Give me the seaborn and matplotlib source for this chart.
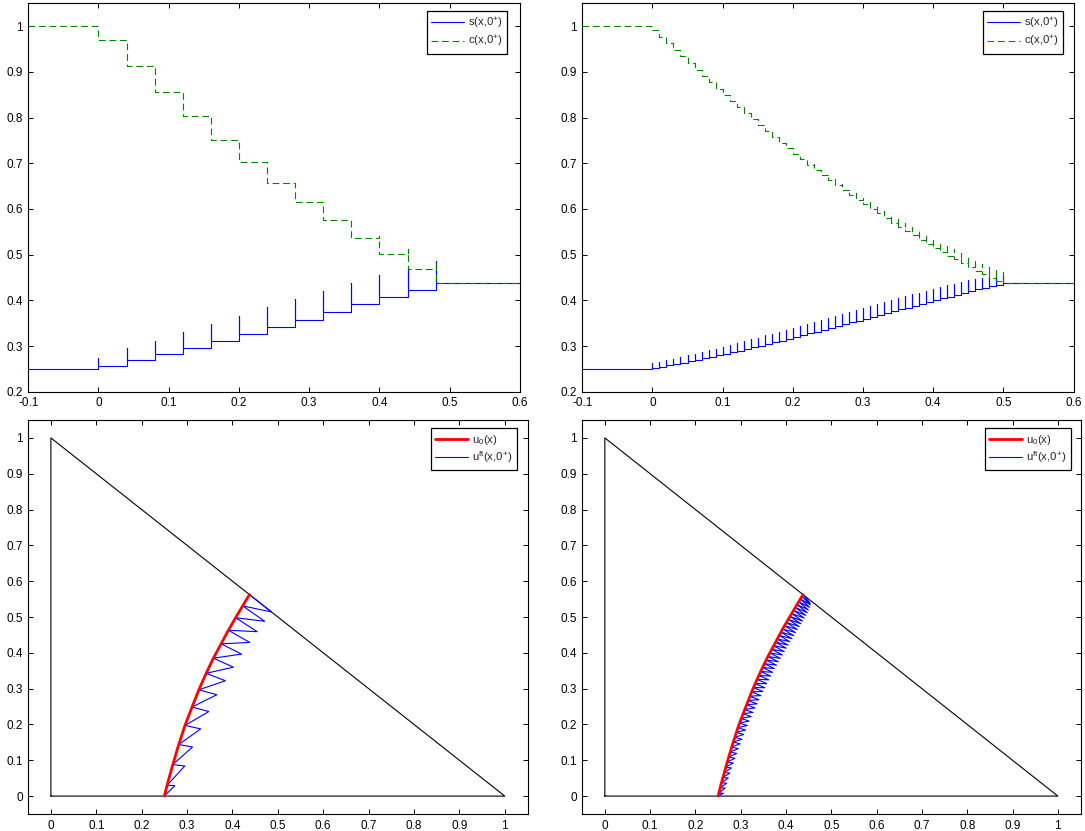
import matplotlib
matplotlib.use("Agg")
import matplotlib.pyplot as plt
import seaborn as sns

# ---------------- data ----------------
# state to the left of the interface
s_left = 0.25
c_left = 1.0

# coarse grid (dx = 0.04): jump locations, levels after each jump,
# overshoot of s inside each jump and the value of c at that overshoot
coarse_x = [0.00, 0.04, 0.08, 0.12, 0.16, 0.20, 0.24, 0.28, 0.32, 0.36, 0.40, 0.44, 0.48]
coarse_s = [0.256, 0.2686, 0.2817, 0.2955, 0.311, 0.326, 0.342, 0.358, 0.375, 0.391, 0.407, 0.4225, 0.4375]
coarse_s_peak = [0.273, 0.295, 0.312, 0.330, 0.348, 0.3656, 0.3845, 0.402, 0.420, 0.438, 0.4545, 0.471, 0.486]
coarse_c = [0.9695, 0.912, 0.856, 0.8025, 0.7514, 0.7033, 0.6573, 0.615, 0.575, 0.537, 0.502, 0.469, 0.4375]
coarse_c_peak = [0.971, 0.916, 0.863, 0.8125, 0.764, 0.717, 0.678, 0.640, 0.6035, 0.571, 0.541, 0.512, 0.486]

# fine grid (dx = 0.01)
fine_x = [0.00, 0.01, 0.02, 0.03, 0.04, 0.05, 0.06, 0.07, 0.08, 0.09,
          0.10, 0.11, 0.12, 0.13, 0.14, 0.15, 0.16, 0.17, 0.18, 0.19,
          0.20, 0.21, 0.22, 0.23, 0.24, 0.25, 0.26, 0.27, 0.28, 0.29,
          0.30, 0.31, 0.32, 0.33, 0.34, 0.35, 0.36, 0.37, 0.38, 0.39,
          0.40, 0.41, 0.42, 0.43, 0.44, 0.45, 0.46, 0.47, 0.48, 0.49, 0.50]
fine_s = [0.2515, 0.2545, 0.2575, 0.2605, 0.2635, 0.2665, 0.2700, 0.2730, 0.2765, 0.2795,
          0.2830, 0.2865, 0.2900, 0.2935, 0.2970, 0.3005, 0.3045, 0.3080, 0.3120, 0.3160,
          0.3195, 0.3235, 0.3275, 0.3315, 0.3355, 0.3395, 0.3435, 0.3475, 0.3515, 0.3555,
          0.3595, 0.3635, 0.3680, 0.3720, 0.3760, 0.3800, 0.3840, 0.3880, 0.3920, 0.3960,
          0.4000, 0.4040, 0.4080, 0.4120, 0.4160, 0.4200, 0.4240, 0.4275, 0.4310, 0.4345, 0.4375]
fine_s_peak = [0.2620, 0.2655, 0.2690, 0.2725, 0.2760, 0.2795, 0.2835, 0.2870, 0.2910, 0.2945,
               0.2985, 0.3025, 0.3065, 0.3105, 0.3145, 0.3185, 0.3230, 0.3270, 0.3315, 0.3360,
               0.3400, 0.3445, 0.3490, 0.3535, 0.3575, 0.3620, 0.3660, 0.3705, 0.3745, 0.3790,
               0.3830, 0.3875, 0.3920, 0.3960, 0.4005, 0.4045, 0.4085, 0.4130, 0.4170, 0.4210,
               0.4250, 0.4290, 0.4330, 0.4365, 0.4400, 0.4435, 0.4470, 0.4495, 0.4520, 0.4535, 0.4535]
fine_c = [0.992, 0.977, 0.963, 0.948, 0.934, 0.919, 0.905, 0.891, 0.877, 0.863,
          0.849, 0.836, 0.822, 0.809, 0.796, 0.783, 0.770, 0.758, 0.745, 0.733,
          0.721, 0.709, 0.697, 0.686, 0.674, 0.663, 0.652, 0.641, 0.630, 0.620,
          0.610, 0.600, 0.590, 0.580, 0.570, 0.561, 0.551, 0.542, 0.533, 0.524,
          0.515, 0.506, 0.498, 0.490, 0.481, 0.473, 0.465, 0.457, 0.449, 0.442, 0.4375]
fine_c_peak = [0.992, 0.9775, 0.964, 0.9495, 0.936, 0.9215, 0.908, 0.8945, 0.881, 0.8675,
               0.854, 0.8415, 0.828, 0.8155, 0.803, 0.7905, 0.778, 0.7665, 0.754, 0.7425,
               0.731, 0.7195, 0.708, 0.6975, 0.686, 0.6755, 0.665, 0.6545, 0.644, 0.6345,
               0.625, 0.6155, 0.606, 0.5965, 0.587, 0.5785, 0.569, 0.5605, 0.552, 0.5435,
               0.535, 0.5265, 0.519, 0.5115, 0.503, 0.4955, 0.488, 0.4805, 0.473, 0.466, 0.4615]

# smooth initial curve u0 in the (s, 1 - c) plane
u0_s = [0.2500, 0.2560, 0.2686, 0.2817, 0.2955, 0.3110, 0.3260, 0.3420,
        0.3580, 0.3750, 0.3910, 0.4070, 0.4225, 0.4375]
u0_v = [0.0000, 0.0305, 0.0880, 0.1440, 0.1975, 0.2486, 0.2967, 0.3427,
        0.3850, 0.4250, 0.4630, 0.4980, 0.5310, 0.5625]

# simplex boundary
tri_x = [0.0, 1.0, 0.0, 0.0]
tri_y = [0.0, 0.0, 1.0, 0.0]

x_min, x_max = -0.1, 0.6

# ---------------- style ----------------
sns.set_theme(style="ticks")
plt.rcParams.update({
    "font.family": ["Liberation Sans", "DejaVu Sans"],
    "mathtext.fontset": "custom",
    "mathtext.rm": "Liberation Sans",
    "mathtext.it": "Liberation Sans",
    "mathtext.bf": "Liberation Sans",
    "font.size": 8.5,
    "axes.edgecolor": "black",
    "axes.linewidth": 0.8,
    "xtick.direction": "in",
    "ytick.direction": "in",
    "xtick.top": True,
    "ytick.right": True,
    "xtick.major.size": 3.6,
    "ytick.major.size": 3.6,
    "xtick.major.width": 0.7,
    "ytick.major.width": 0.7,
    "xtick.color": "black",
    "ytick.color": "black",
    "xtick.labelsize": 8.5,
    "ytick.labelsize": 8.5,
    "xtick.major.pad": 4.0,
    "ytick.major.pad": 4.0,
})

BLUE = (0.0, 0.0, 1.0)
GREEN = (0.0, 0.5, 0.0)
RED = (1.0, 0.0, 0.0)


def step_path(xs, levels, peaks, left):
    """Piecewise-constant profile with a vertical overshoot at every jump."""
    px, py = [x_min], [left]
    prev = left
    for x, lv, pk in zip(xs, levels, peaks):
        px += [x, x, x]
        py += [prev, pk, lv]
        prev = lv
    px.append(x_max)
    py.append(prev)
    return px, py


def phase_path(s, s_pk, c, c_pk):
    """Trajectory of (s, 1 - c) traced through the jumps."""
    px, py = [s_left], [1.0 - c_left]
    for a, ap, b, bp in zip(s, s_pk, c, c_pk):
        px += [ap, a]
        py += [1.0 - bp, 1.0 - b]
    return px, py


def fmt(v, _):
    return "%g" % round(v, 2)


LEGEND_KW = dict(loc="upper right", borderaxespad=0, fontsize=8.2, fancybox=False,
                 framealpha=1, edgecolor="black", borderpad=0.4, labelspacing=0.25,
                 handlelength=2.9, handletextpad=0.3)


def profile_panel(ax, xs, s, s_pk, c, c_pk, anchor):
    sx, sy = step_path(xs, s, s_pk, s_left)
    cx, cy = step_path(xs, c, c_pk, c_left)
    sns.lineplot(x=sx, y=sy, sort=False, estimator=None, color=BLUE,
                 linewidth=0.8, ax=ax, legend=False)
    sns.lineplot(x=cx, y=cy, sort=False, estimator=None, color=GREEN,
                 linewidth=0.8, linestyle=(0, (6.0, 3.5)), ax=ax, legend=False)
    ax.set_xlim(x_min, x_max)
    ax.set_ylim(0.2, 1.05)
    ax.set_xticks([-0.1, 0, 0.1, 0.2, 0.3, 0.4, 0.5, 0.6])
    ax.set_yticks([0.2, 0.3, 0.4, 0.5, 0.6, 0.7, 0.8, 0.9, 1.0])
    ax.xaxis.set_major_formatter(plt.FuncFormatter(fmt))
    ax.yaxis.set_major_formatter(plt.FuncFormatter(fmt))
    lines = ax.get_lines()
    leg = ax.legend(lines[:2], [r"s(x,0$^{+}$)", r"c(x,0$^{+}$)"],
                    bbox_to_anchor=anchor, **LEGEND_KW)
    leg.get_frame().set_linewidth(0.9)


def phase_panel(ax, s, s_pk, c, c_pk, anchor):
    sns.lineplot(x=tri_x, y=tri_y, sort=False, estimator=None, color="black",
                 linewidth=0.8, ax=ax, legend=False)
    zx, zy = phase_path(s, s_pk, c, c_pk)
    sns.lineplot(x=zx, y=zy, sort=False, estimator=None, color=BLUE,
                 linewidth=0.8, ax=ax, legend=False)
    sns.lineplot(x=u0_s, y=u0_v, sort=False, estimator=None, color=RED,
                 linewidth=2.0, ax=ax, legend=False)
    ax.set_xlim(-0.05, 1.05)
    ax.set_ylim(-0.05, 1.05)
    ticks = [0, 0.1, 0.2, 0.3, 0.4, 0.5, 0.6, 0.7, 0.8, 0.9, 1.0]
    ax.set_xticks(ticks)
    ax.set_yticks(ticks)
    ax.xaxis.set_major_formatter(plt.FuncFormatter(fmt))
    ax.yaxis.set_major_formatter(plt.FuncFormatter(fmt))
    lines = ax.get_lines()
    leg = ax.legend([lines[2], lines[1]], [r"u$_{0}$(x)", r"u$^{\mathrm{ft}}$(x,0$^{+}$)"],
                    bbox_to_anchor=anchor, **LEGEND_KW)
    leg.get_frame().set_linewidth(0.9)


W, H = 1085.0, 831.0
fig = plt.figure(figsize=(W / 100, H / 100), dpi=100)


def box(l, r, t, b):
    return [l / W, 1 - b / H, (r - l) / W, (b - t) / H]


ax_tl = fig.add_axes(box(28.2, 519.9, 3.3, 391.7))
ax_tr = fig.add_axes(box(582.2, 1073.6, 3.3, 391.7))
ax_bl = fig.add_axes(box(28.2, 527.5, 420.0, 814.0))
ax_br = fig.add_axes(box(582.2, 1080.5, 420.0, 814.0))

profile_panel(ax_tl, coarse_x, coarse_s, coarse_s_peak, coarse_c, coarse_c_peak, (0.974, 0.980))
profile_panel(ax_tr, fine_x, fine_s, fine_s_peak, fine_c, fine_c_peak, (0.979, 0.980))
phase_panel(ax_bl, coarse_s, coarse_s_peak, coarse_c, coarse_c_peak, (0.978, 0.979))
phase_panel(ax_br, fine_s, fine_s_peak, fine_c, fine_c_peak, (0.980, 0.979))

fig.savefig("out.png", dpi=100)
